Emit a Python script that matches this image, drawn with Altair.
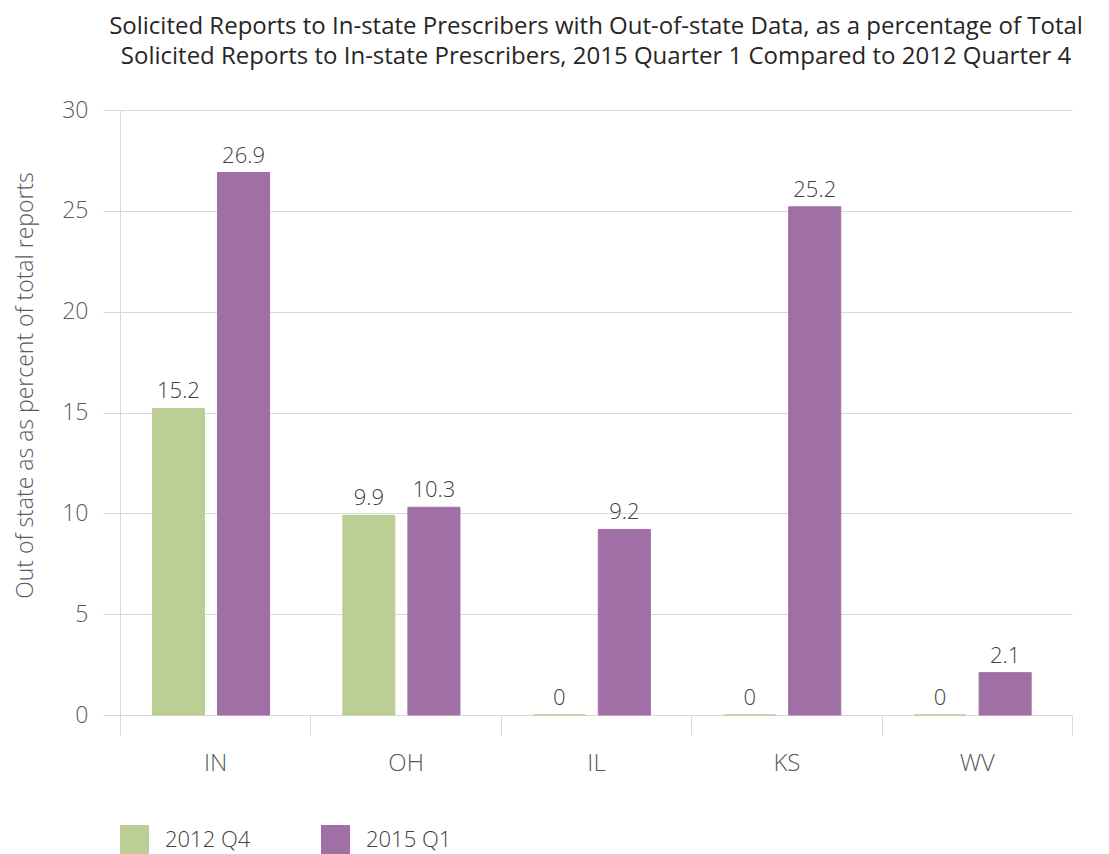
import altair as alt
import pandas as pd

states = ["IN", "OH", "IL", "KS", "WV"]
q4_2012 = [15.2, 9.9, 0, 0, 0]
q1_2015 = [26.9, 10.3, 9.2, 25.2, 2.1]
series = ["2012 Q4", "2015 Q1"]
colors = ["#BBCE94", "#A06FA5"]
y_ticks = [0, 5, 10, 15, 20, 25, 30]

title_lines = [
    "Solicited Reports to In-state Prescribers with Out-of-state Data, as a percentage of Total",
    "Solicited Reports to In-state Prescribers, 2015 Quarter 1 Compared to 2012 Quarter 4",
]
y_title = "Out of state as as percent of total reports"

rows = []
for s, a, b in zip(states, q4_2012, q1_2015):
    rows.append({"state": s, "series": series[0], "value": a})
    rows.append({"state": s, "series": series[1], "value": b})
df = pd.DataFrame(rows)

FONT = "Open Sans"
GRID = "#D9D9D9"

base = alt.Chart(df).encode(
    x=alt.X(
        "state:N",
        sort=states,
        scale=alt.Scale(paddingInner=0, paddingOuter=0),
        axis=alt.Axis(
            title=None,
            labelAngle=0,
            tickBand="extent",
            tickSize=20,
            tickColor=GRID,
            domainColor=GRID,
            labelFontSize=24,
            labelFont=FONT,
            labelFontWeight=300,
            labelColor="#595959",
            labelPadding=16,
            grid=False,
        ),
    ),
    xOffset=alt.XOffset(
        "series:N",
        sort=series,
        scale=alt.Scale(range=[-4, 186], paddingInner=0.2, paddingOuter=0.56),
    ),
    y=alt.Y(
        "value:Q",
        scale=alt.Scale(domain=[0, 30]),
        axis=alt.Axis(
            values=y_ticks,
            title=y_title,
            grid=True,
            gridColor=GRID,
            domainColor=GRID,
            tickColor=GRID,
            tickSize=17,
            labelPadding=15,
            labelFontSize=23,
            labelFont=FONT,
            labelFontWeight=300,
            labelColor="#595959",
            titleFontSize=23,
            titleFont=FONT,
            titleFontWeight=300,
            titleColor="#595959",
            titleX=-95,
            titleY=275,
            titleAngle=-90,
            titleAlign="center",
            titleBaseline="middle",
        ),
    ),
)

bars = base.mark_bar(strokeWidth=1).encode(
    color=alt.Color(
        "series:N",
        scale=alt.Scale(domain=series, range=colors),
        legend=alt.Legend(
            title=None,
            orient="none",
            legendX=0,
            legendY=715,
            direction="horizontal",
            symbolType="square",
            symbolSize=841,
            symbolStrokeWidth=0,
            symbolOpacity=1,
            labelFontSize=22,
            labelFont=FONT,
            labelFontWeight=300,
            labelColor="#404040",
            labelOffset=16,
            columnPadding=70,
        ),
    ),
    stroke=alt.Stroke("series:N", scale=alt.Scale(domain=series, range=colors), legend=None),
)

labels = base.mark_text(
    dy=-10, baseline="alphabetic", fontSize=22, font=FONT, fontWeight=300, color="#404040"
).encode(text=alt.Text("value:Q", format=".1~f"))

chart = (
    alt.layer(bars, labels)
    .properties(
        width=952,
        height=605,
        autosize=alt.AutoSizeParams(type="none"),
        padding={"left": 112, "top": 102, "right": 29, "bottom": 139},
        title=alt.TitleParams(
            text=title_lines,
            fontSize=24,
            font=FONT,
            fontWeight="normal",
            color="#262626",
            anchor="middle",
            lineHeight=30,
            offset=30,
        ),
    )
    .configure_view(stroke=None)
)

chart.save("out.html", embed_options={"renderer": "svg", "actions": False})
